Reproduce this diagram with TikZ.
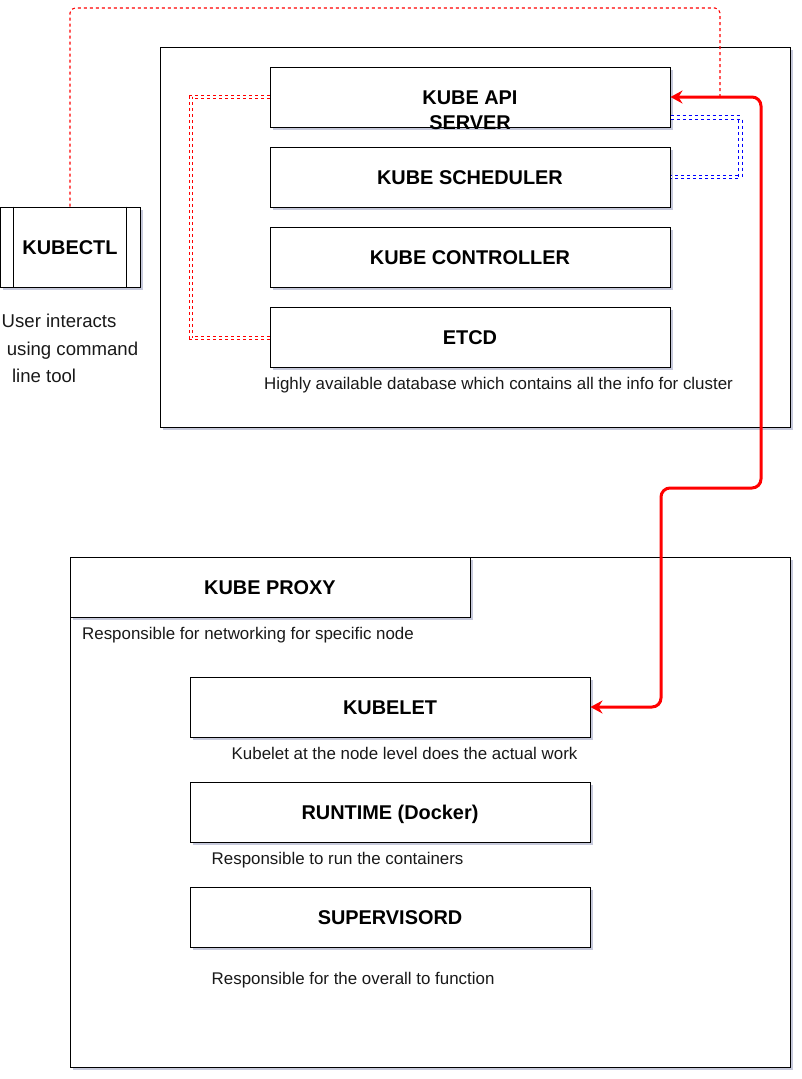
\documentclass[tikz,border=0pt]{standalone}
\usepackage{fontspec}
\setmainfont{Liberation Sans}
\usetikzlibrary{arrows.meta,shadows}
\definecolor{shadowc}{RGB}{160,165,195}
\definecolor{lred}{RGB}{255,0,0}
\definecolor{lblue}{RGB}{0,0,255}
\begin{document}
\begin{tikzpicture}[x=1pt,y=-1pt,
  box/.style={draw=black, line width=1pt, fill=white, inner sep=0pt,
    drop shadow={shadow xshift=2.5pt, shadow yshift=-3pt, fill=shadowc, opacity=0.6}},
  comp/.style={box, minimum width=400pt, minimum height=60pt, align=center,
    text height=14.2pt, text depth=0pt,
    font=\bfseries\fontsize{19.9}{25}\selectfont},
  boldtxt/.style={inner sep=0pt, align=center, font=\bfseries\fontsize{19.9}{25}\selectfont},
  note/.style={inner sep=0pt, anchor=base west, text=black!90, font=\fontsize{16.9}{20}\selectfont},
  dashdbl/.style={line width=0.9pt, double=white, double distance=2.3pt, dash pattern=on 3pt off 3pt},
  thindash/.style={draw=lred, line width=1.1pt, dash pattern=on 3pt off 3pt, rounded corners=5pt},
  mainarrow/.style={draw=lred, line width=3pt, rounded corners=9pt,
    {Stealth[length=12pt,width=13pt,inset=4pt]}-{Stealth[length=12pt,width=13pt,inset=4pt]}}
]
\useasboundingbox (0,0) rectangle (802,1079);

% containers
\node[box, minimum width=630pt, minimum height=380pt] (control) at (475,237) {};
\node[box, minimum width=720pt, minimum height=510pt] (worker) at (430,812) {};

% control plane components
\node[comp] (api) at (470,97) {};
\node[boldtxt] (apilabel) at (470,110) {KUBE API\\SERVER};
\node[comp] (sched) at (470,177) {KUBE SCHEDULER};
\node[comp] (ctrl) at (470,257) {KUBE CONTROLLER};
\node[comp] (etcd) at (470,337) {ETCD};
\node[note, anchor=base] (etcdnote) at (498.5,389) {Highly available database which contains all the info for cluster};

% kubectl
\node[box, minimum width=140pt, minimum height=80pt, text height=14.2pt, text depth=0pt, font=\bfseries\fontsize{19.9}{25}\selectfont] (kubectl) at (70,247) {KUBECTL};
\draw[line width=1pt] ([xshift=14pt]kubectl.north west) -- ([xshift=14pt]kubectl.south west);
\draw[line width=1pt] ([xshift=-14pt]kubectl.north east) -- ([xshift=-14pt]kubectl.south east);
\node[inner sep=0pt, anchor=north west, align=left, text=black!90, font=\fontsize{18.6}{27.5}\selectfont] (usernote) at (1.5,314) {User interacts\\\hspace*{0.278em}using command\\\hspace*{0.556em}line tool};

% worker node
\node[comp] (proxy) at (270,587) {KUBE PROXY};
\node[note] (proxynote) at (82,639) {Responsible for networking for specific node};
\node[comp] (kubelet) at (390,707) {KUBELET};
\node[note] (kubeletnote) at (231.5,759) {Kubelet at the node level does the actual work};
\node[comp] (runtime) at (390,812) {RUNTIME (Docker)};
\node[note] (runtimenote) at (211.5,864) {Responsible to run the containers};
\node[comp] (superv) at (390,917) {SUPERVISORD};
\node[note] (supervnote) at (211.5,984) {Responsible for the overall to function};

% connectors
\draw[dashdbl, draw=lred] (api.west) -- (190.7,97) -- (190.7,338) -- (etcd.west |- 0,338);
\draw[dashdbl, draw=lblue] ([yshift=-20.5pt]api.east) -| (740.5,177) -- (sched.east);
\coordinate (apijoin) at (720,97);
\draw[thindash] (kubectl.north) -- (70,8) -- (720,8) -- (apijoin);
\draw[mainarrow] (kubelet.east) -- (661,707) -- (661,488) -- (761,488) -- (761,97) -- (api.east);
\end{tikzpicture}
\end{document}
